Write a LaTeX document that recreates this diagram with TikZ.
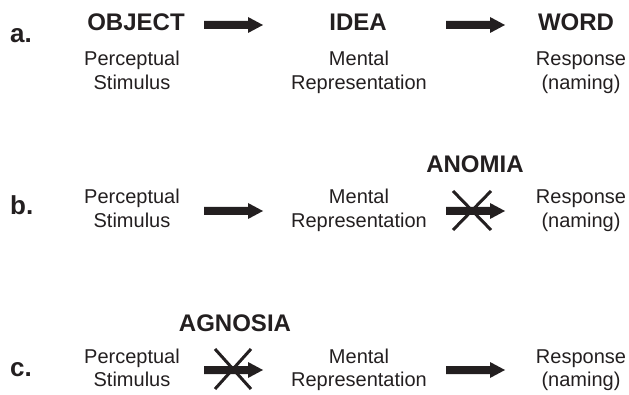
\documentclass[tikz,border=0pt]{standalone}
\usepackage{fontspec}
\setmainfont{Liberation Sans}
\usetikzlibrary{calc}
\definecolor{ink}{RGB}{35,31,32}
\newcommand\mytwo[2]{\begin{tabular}[t]{@{}c@{}}#1\\#2\end{tabular}}
\begin{document}
\begin{tikzpicture}[x=1pt,y=-1pt,
  every node/.style={inner sep=0pt, text=ink},
  rowlbl/.style={anchor=base west, font=\fontsize{26}{30}\selectfont\bfseries},
  head/.style={anchor=base, font=\fontsize{24}{28}\selectfont\bfseries},
  body/.style={anchor=base, font=\fontsize{20}{23.5}\selectfont},
  cross/.style={draw=ink, line width=3pt}]
\useasboundingbox (0,0) rectangle (629,395);
% block arrow as a macro on two named coordinates
\newcommand\blockarrow[1]{%
  \fill[ink] ($(#1)+(0,-4)$) -- ++(44,0) -- ++(0,-4) -- ++(15,8) -- ++(-15,8) -- ++(0,-4) -- ++(-44,0) -- cycle;}
% row a
\node[rowlbl] (la) at (10,43) {a.};
\node[head] (obj) at (136,31) {OBJECT};
\node[head] (idea) at (358,31) {IDEA};
\node[head] (word) at (576,31) {WORD};
\node[body] (pa) at (132,66) {\mytwo{Perceptual}{Stimulus}};
\node[body] (ma) at (359,66) {\mytwo{Mental}{Representation}};
\node[body] (ra) at (581,66) {\mytwo{Response}{(naming)}};
\coordinate (a1) at (204,25);
\coordinate (a2) at (446,25);
\blockarrow{a1}
\blockarrow{a2}
% row b
\node[rowlbl] (lb) at (10,215) {b.};
\node[head] (anomia) at (475,173) {ANOMIA};
\node[body] (pb) at (132,204) {\mytwo{Perceptual}{Stimulus}};
\node[body] (mb) at (359,204) {\mytwo{Mental}{Representation}};
\node[body] (rb) at (581,204) {\mytwo{Response}{(naming)}};
\coordinate (b1) at (204,211);
\coordinate (b2) at (446,211);
\blockarrow{b1}
\blockarrow{b2}
\coordinate (bx) at (472,211);
\draw[cross] ($(bx)+(-19,-20)$) -- ($(bx)+(19,19)$);
\draw[cross] ($(bx)+(19,-20)$) -- ($(bx)+(-19,19)$);
% row c
\node[rowlbl] (lc) at (10,376) {c.};
\node[head] (agnosia) at (235,331) {AGNOSIA};
\node[body] (pc) at (132,363) {\mytwo{Perceptual}{Stimulus}};
\node[body] (mc) at (359,363) {\mytwo{Mental}{Representation}};
\node[body] (rc) at (581,363) {\mytwo{Response}{(naming)}};
\coordinate (c1) at (204,370);
\coordinate (c2) at (446,370);
\blockarrow{c1}
\blockarrow{c2}
\coordinate (cx) at (233,369);
\draw[cross] ($(cx)+(-18,-20)$) -- ($(cx)+(18,20)$);
\draw[cross] ($(cx)+(18,-20)$) -- ($(cx)+(-18,20)$);
\end{tikzpicture}
\end{document}
